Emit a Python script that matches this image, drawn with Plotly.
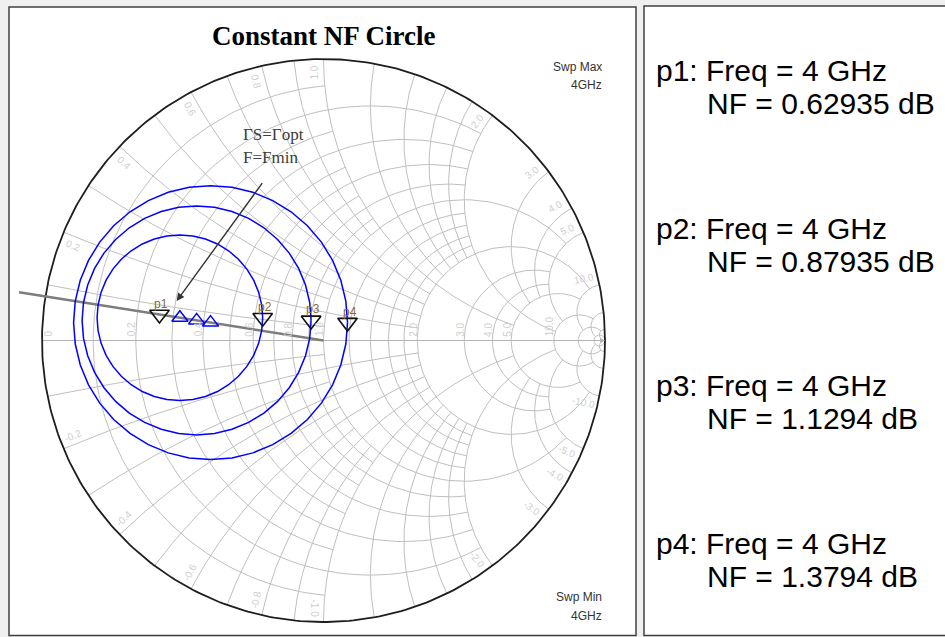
import numpy as np
import plotly.graph_objects as go

# ---------------- measured noise data ----------------
FREQ_GHZ = 4
NF_MIN_DB = 0.62935                      # p1: F = Fmin at Gamma_S = Gamma_opt
NF_LEVELS_DB = [0.87935, 1.1294, 1.3794]  # p2..p4: constant-NF circles
MARKER_NAMES = ["p1", "p2", "p3", "p4"]
GAMMA_OPT_MAG = 0.59
GAMMA_OPT_DEG = 171.0
RN_OHM = 1.1
Z0_OHM = 50.0

# ---------------- Smith grid definition ----------------
# constant-resistance circles and the |x| up to which each one is drawn
R_GRID_VALUES = [0.1, 0.2, 0.3, 0.4, 0.5, 0.6, 0.7, 0.8, 0.9, 1.0,
                 1.2, 1.4, 1.6, 1.8, 2.0, 3.0, 4.0, 5.0, 10.0, 20.0, 50.0]
R_GRID_LIMITS = [1, 2, 1, 2, 1, 2, 1, 2, 1, 5,
                 2, 2, 2, 2, 10, 5, 5, 10, 20, 50, np.inf]
# constant-reactance arcs and the r up to which each one is drawn
X_GRID_VALUES = R_GRID_VALUES
X_GRID_LIMITS = R_GRID_LIMITS
AXIS_TICKS = [0, 0.2, 0.4, 0.6, 0.8, 1.0, 2.0, 3.0, 4.0, 5.0, 10.0]
RIM_TICKS = [0.2, 0.4, 0.6, 0.8, 1.0, 2.0, 3.0, 4.0, 5.0, 10.0]

# ---------------- canvas geometry ----------------
W, H = 945, 637
CX, CY, RPX = 323.5, 340.5, 281.5     # chart centre and unit radius in pixels

GRID_COLOR = "#bfbfbf"
LABEL_COLOR = "#cfcfcf"
MARK_LABEL_COLOR = "#8a6a3c"


def px(x):
    return x / W


def py(y):
    return 1 - y / H


def gamma(z):
    return (z - 1) / (z + 1)


def r_arc(r, xmax, n=120):
    c, rad = r / (1 + r), 1 / (1 + r)
    if np.isinf(xmax):
        t0 = 0.0
    else:
        g = gamma(complex(r, xmax))
        t0 = np.arctan2(g.imag, g.real - c)
    t = np.linspace(t0, 2 * np.pi - t0, n)
    return c + rad * np.cos(t), rad * np.sin(t)


def x_arc(x, rmax, n=90):
    ax = abs(x)
    cyc, rad = 1 / ax, 1 / ax
    g0 = gamma(complex(0, ax))
    a0 = np.arctan2(g0.imag - cyc, g0.real - 1) % (2 * np.pi)
    if np.isinf(rmax):
        a1 = 1.5 * np.pi
    else:
        g1 = gamma(complex(rmax, ax))
        a1 = np.arctan2(g1.imag - cyc, g1.real - 1) % (2 * np.pi)
    t = np.linspace(a0, a1, n)
    xs, ys = 1 + rad * np.cos(t), cyc + rad * np.sin(t)
    return xs, (ys if x > 0 else -ys)


def paper_text(x, y, text, size, color, family="Liberation Sans",
               xanchor="center", yanchor="middle", angle=0):
    return dict(x=px(x), y=py(y), xref="paper", yref="paper", text=text,
                showarrow=False, xanchor=xanchor, yanchor=yanchor, textangle=angle,
                font=dict(family=family, size=size, color=color))


# ---------------- grid traces ----------------
gx, gy = [], []
for r, lim in zip(R_GRID_VALUES, R_GRID_LIMITS):
    xs, ys = r_arc(r, lim)
    gx += list(xs) + [None]
    gy += list(ys) + [None]
for x, lim in zip(X_GRID_VALUES, X_GRID_LIMITS):
    for s in (1, -1):
        xs, ys = x_arc(s * x, lim)
        gx += list(xs) + [None]
        gy += list(ys) + [None]

fig = go.Figure()
fig.add_trace(go.Scatter(x=gx, y=gy, mode="lines", hoverinfo="skip",
                         line=dict(color=GRID_COLOR, width=1)))
# real axis
fig.add_trace(go.Scatter(x=[-1, 1], y=[0, 0], mode="lines", hoverinfo="skip",
                         line=dict(color="#b4b4b4", width=1)))
# outer rim
t = np.linspace(0, 2 * np.pi, 400)
fig.add_trace(go.Scatter(x=np.cos(t), y=np.sin(t), mode="lines", hoverinfo="skip",
                         line=dict(color="#1e1e1e", width=1.8)))

# ---------------- constant-NF circles ----------------
g_opt = GAMMA_OPT_MAG * np.exp(1j * np.deg2rad(GAMMA_OPT_DEG))
rn = RN_OHM / Z0_OHM
f_min = 10 ** (NF_MIN_DB / 10)
centres, radii = [], []
for nf in NF_LEVELS_DB:
    f = 10 ** (nf / 10)
    n_par = (f - f_min) / (4 * rn) * abs(1 + g_opt) ** 2
    centres.append(g_opt / (1 + n_par))
    radii.append(np.sqrt(n_par * (n_par + 1 - abs(g_opt) ** 2)) / (1 + n_par))

# line of centres through Gamma_opt
LINE_LEN = 1.095
fig.add_trace(go.Scatter(x=[0, LINE_LEN * np.cos(np.angle(g_opt))],
                         y=[0, LINE_LEN * np.sin(np.angle(g_opt))],
                         mode="lines", hoverinfo="skip",
                         line=dict(color="#7d7d7d", width=2.5)))

th = np.linspace(0, 2 * np.pi, 41)
marker_pts = [g_opt]
for c, rho in zip(centres, radii):
    fig.add_trace(go.Scatter(x=c.real + rho * np.cos(th), y=c.imag + rho * np.sin(th),
                             mode="lines", line=dict(color="#0000ff", width=1.5),
                             hoverinfo="skip"))
    marker_pts.append(c + rho)

# circle centres
fig.add_trace(go.Scatter(x=[c.real for c in centres], y=[c.imag for c in centres],
                         mode="markers", hoverinfo="skip",
                         marker=dict(symbol="triangle-up-open", size=14,
                                     color="#0000ff", line=dict(width=1.5))))
# p markers
fig.add_trace(go.Scatter(x=[p.real for p in marker_pts], y=[p.imag for p in marker_pts],
                         mode="markers", hoverinfo="skip",
                         marker=dict(symbol="triangle-down-open", size=17,
                                     color="#111111", line=dict(width=1.6))))

annotations = []
for name, p in zip(MARKER_NAMES, marker_pts):
    annotations.append(dict(x=p.real, y=p.imag, xref="x", yref="y", text=name,
                            showarrow=False, xshift=2, yshift=11,
                            xanchor="center", yanchor="middle",
                            font=dict(family="Liberation Sans", size=12,
                                      color=MARK_LABEL_COLOR)))

# ---------------- grid labels ----------------
for r in AXIS_TICKS:
    xr = gamma(complex(r, 0)).real
    sx = CX + xr * RPX
    shift = 6 if r == 0 else -4
    annotations.append(paper_text(sx + shift, CY - 2, f"{r:.1f}" if r else "0", 10,
                                  LABEL_COLOR, yanchor="bottom", angle=-90))

for xv in RIM_TICKS:
    for s in (1, -1):
        g = gamma(complex(0, s * xv))
        phi = np.angle(g)
        rad_px = RPX - 14
        bx = CX + rad_px * np.cos(phi)
        by = CY - rad_px * np.sin(phi)
        # tangential nudge away from the arc
        tx, ty = -np.sin(phi) * s, np.cos(phi) * s
        bx += 9 * tx
        by -= 9 * ty
        deg = np.rad2deg(phi)
        direction = deg if np.cos(phi) >= -1e-9 else deg - 180 * np.sign(deg)
        annotations.append(paper_text(bx, by, f"{s * xv:.1f}", 10, LABEL_COLOR,
                                      angle=-direction))

# axis arrow tip
annotations.append(dict(x=1, y=0, xref="x", yref="y", ax=-12, ay=0, text="",
                        showarrow=True, arrowhead=2, arrowsize=1, arrowwidth=1,
                        arrowcolor="#b4b4b4"))

# ---------------- texts ----------------
annotations.append(paper_text(CX, 36.5, "<b>Constant NF Circle</b>", 27, "#000000",
                              family="Liberation Serif"))
annotations.append(paper_text(241, 135, "ΓS=Γopt", 17, "#3c3c3c",
                              family="Liberation Serif", xanchor="left"))
annotations.append(paper_text(241, 157.5, "F=Fmin", 17, "#3c3c3c",
                              family="Liberation Serif", xanchor="left"))
annotations.append(dict(x=(176.7 - CX) / RPX, y=(CY - 301) / RPX, xref="x", yref="y",
                        ax=(263.3 - CX) / RPX, ay=(CY - 181.7) / RPX,
                        axref="x", ayref="y", text="", showarrow=True,
                        arrowhead=2, arrowsize=1.1, arrowwidth=1.4, arrowcolor="#333333"))

for txt, yy in (("Swp Max", 67), ("4GHz", 85.5), ("Swp Min", 596.5), ("4GHz", 615.5)):
    annotations.append(paper_text(604, yy, txt, 12, "#333333", xanchor="right"))

# marker readout panel
readout_nf = [NF_MIN_DB] + NF_LEVELS_DB
for i, (name, nf) in enumerate(zip(MARKER_NAMES, readout_nf)):
    y0 = 70.5 + i * 157.5
    annotations.append(paper_text(654, y0, f"{name}: Freq = {FREQ_GHZ} GHz", 30,
                                  "#000000", xanchor="left"))
    annotations.append(paper_text(705, y0 + 33, f"NF = {format(nf, 'g')} dB", 30,
                                  "#000000", xanchor="left"))

shapes = [
    dict(type="rect", xref="paper", yref="paper", layer="below",
         x0=px(9), x1=px(636), y0=py(635.5), y1=py(7),
         fillcolor="#ffffff", line=dict(color="#404040", width=1.5)),
    dict(type="rect", xref="paper", yref="paper", layer="below",
         x0=px(644), x1=px(960), y0=py(635.5), y1=py(6),
         fillcolor="#ffffff", line=dict(color="#404040", width=1.5)),
]

fig.update_layout(
    width=W, height=H, autosize=False,
    margin=dict(l=0, r=0, t=0, b=0),
    paper_bgcolor="#f0f0f0", plot_bgcolor="#f0f0f0",
    showlegend=False,
    xaxis=dict(range=[-CX / RPX, (W - CX) / RPX], visible=False, fixedrange=True),
    yaxis=dict(range=[-(H - CY) / RPX, CY / RPX], visible=False, fixedrange=True),
    annotations=annotations,
    shapes=shapes,
)

fig.write_html("out.html")
